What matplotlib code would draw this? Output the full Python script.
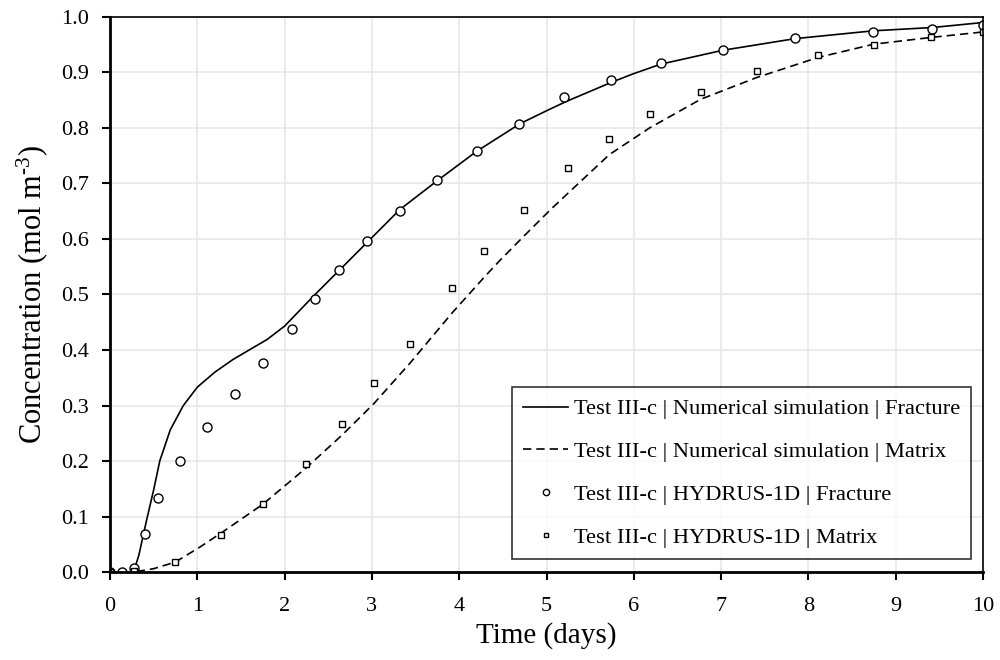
import numpy as np
import matplotlib.pyplot as plt

# numerical simulation, fracture (solid line)
sim_frac_t = [0, 0.27, 0.33, 0.42, 0.5, 0.57, 0.69, 0.84, 1.0, 1.2, 1.41, 1.8, 2.0, 2.33, 2.94,
              3.32, 3.74, 4.2, 4.7, 5.04, 5.23, 5.74, 6.0, 6.31, 7.02, 7.85, 8.74, 9.42, 10.0]
sim_frac_c = [0, 0.0, 0.03, 0.094, 0.148, 0.2, 0.256, 0.3, 0.333, 0.36, 0.383, 0.419, 0.443, 0.497, 0.593,
              0.653, 0.704, 0.758, 0.808, 0.834, 0.848, 0.882, 0.898, 0.915, 0.94, 0.961, 0.975, 0.981, 0.99]

# numerical simulation, matrix (dashed line)
sim_mat_t = [0, 0.27, 0.5, 0.75, 1.03, 1.27, 1.75, 2.25, 2.66, 3.02, 3.44, 3.92, 4.28, 4.47, 4.74,
             5.04, 5.25, 5.72, 6.18, 6.77, 7.41, 8.11, 8.75, 9.4, 10.0]
sim_mat_c = [0, 0.0, 0.006, 0.018, 0.045, 0.07, 0.122, 0.188, 0.247, 0.303, 0.377, 0.467, 0.53, 0.562, 0.605,
             0.652, 0.683, 0.752, 0.80, 0.852, 0.891, 0.927, 0.951, 0.963, 0.973]

# HYDRUS-1D, fracture (circles)
hyd_frac_t = [0, 0.14, 0.27, 0.40, 0.55, 0.80, 1.11, 1.43, 1.75, 2.08, 2.35, 2.62, 2.94, 3.32, 3.75,
              4.20, 4.69, 5.20, 5.74, 6.31, 7.02, 7.85, 8.74, 9.42, 10.0]
hyd_frac_c = [0, 0.0, 0.007, 0.068, 0.134, 0.20, 0.262, 0.32, 0.377, 0.438, 0.492, 0.545, 0.597, 0.65, 0.706,
              0.758, 0.808, 0.855, 0.886, 0.917, 0.94, 0.962, 0.973, 0.978, 0.986]

# HYDRUS-1D, matrix (squares)
hyd_mat_t = [0, 0.27, 0.75, 1.27, 1.75, 2.25, 2.66, 3.02, 3.44, 3.92, 4.28, 4.74, 5.25, 5.72, 6.18,
             6.77, 7.41, 8.11, 8.75, 9.40, 10.0]
hyd_mat_c = [0, 0.002, 0.018, 0.067, 0.122, 0.195, 0.267, 0.341, 0.411, 0.511, 0.579, 0.652, 0.727, 0.78, 0.825,
             0.865, 0.903, 0.932, 0.95, 0.964, 0.973]

labels = ['Test III-c | Numerical simulation | Fracture',
          'Test III-c | Numerical simulation | Matrix',
          'Test III-c | HYDRUS-1D | Fracture',
          'Test III-c | HYDRUS-1D | Matrix']

plt.rcParams['font.family'] = ['Liberation Serif', 'DejaVu Serif']
plt.rcParams['mathtext.fontset'] = 'custom'
plt.rcParams['mathtext.rm'] = 'Liberation Serif'
plt.rcParams['mathtext.default'] = 'rm'

fig = plt.figure(figsize=(10, 6.6), dpi=100)
ax = fig.add_axes([0.11, 0.1333, 0.873, 0.841])

ax.plot(sim_frac_t, sim_frac_c, '-', color='black', lw=1.2, label=labels[0])
ax.plot(sim_mat_t, sim_mat_c, '--', color='black', lw=1.2, dashes=(5, 3), label=labels[1])
ax.plot(hyd_frac_t, hyd_frac_c, 'o', mfc='white', mec='black', mew=1.0, ms=6.5, ls='none', label=labels[2])
ax.plot(hyd_mat_t, hyd_mat_c, 's', mfc='white', mec='black', mew=1.0, ms=5, ls='none', label=labels[3])

ax.set_xlim(0, 10)
ax.set_ylim(0, 1.0)
ax.set_xticks(np.arange(0, 11, 1))
ax.set_yticks(np.arange(0, 1.01, 0.1))
ax.set_yticklabels(['%.1f' % v for v in np.arange(0, 1.01, 0.1)])
ax.grid(True, color='#e8e8e8', lw=1.2)
ax.set_axisbelow(True)
ax.tick_params(direction='out', length=6, width=1.5, labelsize=16)
ax.tick_params(axis='x', pad=12)
ax.tick_params(axis='y', pad=9)
ax.spines['left'].set_linewidth(2)
ax.spines['bottom'].set_linewidth(2)
ax.spines['top'].set_linewidth(1.2)
ax.spines['right'].set_linewidth(1.2)

ax.set_xlabel('Time (days)', fontsize=21, labelpad=4)
ax.set_ylabel('Concentration (mol m$^{\u2010 3}$)', fontsize=22, labelpad=8)

leg = ax.legend(loc='lower right', bbox_to_anchor=(0.9995, 0.003), fontsize=16.2, frameon=True,
                fancybox=False, edgecolor='black', handlelength=2.0, handletextpad=0.25,
                labelspacing=0.98, markerscale=0.7, borderpad=0.5)
leg.get_frame().set_linewidth(1.2)

plt.savefig('out.png', dpi=100)
